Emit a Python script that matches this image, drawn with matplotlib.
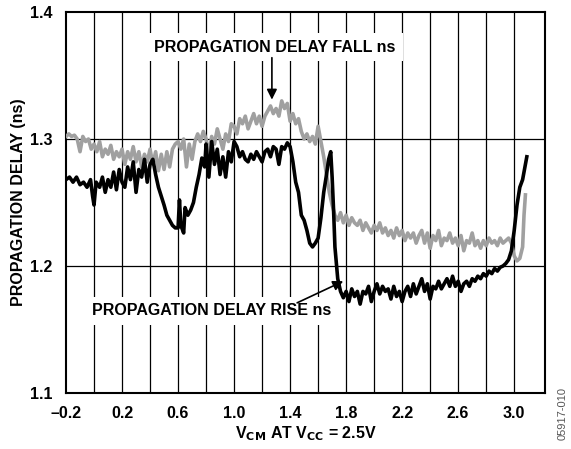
import matplotlib
matplotlib.use("Agg")
import matplotlib.pyplot as plt

plt.rcParams['font.family'] = ['Liberation Sans', 'DejaVu Sans']
plt.rcParams['font.weight'] = 'bold'

# propagation delay rise (black), ns
rise_x = [-0.2, -0.175, -0.15, -0.125, -0.1, -0.075, -0.05, -0.025, -0.01, 0.0,
          0.015, 0.04, 0.06, 0.08, 0.10, 0.12, 0.14, 0.16, 0.18, 0.20,
          0.22, 0.24, 0.26, 0.28, 0.30, 0.32, 0.34, 0.36, 0.38, 0.40,
          0.42, 0.44, 0.46, 0.48, 0.50, 0.52, 0.54, 0.56, 0.58, 0.60,
          0.61, 0.62, 0.64, 0.65, 0.67, 0.69, 0.71, 0.73, 0.75, 0.77,
          0.79, 0.80, 0.82, 0.84, 0.86, 0.88, 0.90, 0.92, 0.94, 0.96,
          0.98, 1.00, 1.02, 1.04, 1.06, 1.08, 1.10, 1.12, 1.14, 1.16,
          1.18, 1.20, 1.22, 1.24, 1.26, 1.28, 1.30, 1.32, 1.34, 1.36,
          1.38, 1.40, 1.42, 1.44, 1.46, 1.48, 1.50, 1.52, 1.54, 1.56,
          1.58, 1.60, 1.62, 1.64, 1.66, 1.675, 1.69, 1.70, 1.71, 1.72,
          1.74, 1.76, 1.78, 1.80, 1.82, 1.84, 1.86, 1.88, 1.90, 1.92,
          1.94, 1.96, 1.98, 2.00, 2.02, 2.04, 2.06, 2.08, 2.10, 2.12,
          2.14, 2.16, 2.18, 2.20, 2.22, 2.24, 2.26, 2.28, 2.30, 2.32,
          2.34, 2.36, 2.38, 2.40, 2.42, 2.44, 2.46, 2.48, 2.50, 2.52,
          2.54, 2.56, 2.58, 2.60, 2.62, 2.64, 2.66, 2.68, 2.70, 2.72,
          2.74, 2.76, 2.78, 2.80, 2.82, 2.84, 2.86, 2.88, 2.90, 2.92,
          2.94, 2.96, 2.98, 3.00, 3.02, 3.04, 3.06, 3.08, 3.09]
rise_y = [1.268, 1.270, 1.266, 1.270, 1.264, 1.266, 1.262, 1.268, 1.255, 1.248,
          1.266, 1.262, 1.270, 1.258, 1.268, 1.262, 1.274, 1.260, 1.276, 1.266,
          1.262, 1.278, 1.268, 1.282, 1.258, 1.276, 1.270, 1.284, 1.266, 1.280,
          1.284, 1.272, 1.262, 1.255, 1.248, 1.240, 1.236, 1.232, 1.230, 1.230,
          1.252, 1.232, 1.226, 1.246, 1.240, 1.244, 1.250, 1.262, 1.272, 1.285,
          1.278, 1.296, 1.270, 1.298, 1.280, 1.292, 1.272, 1.286, 1.270, 1.290,
          1.282, 1.298, 1.294, 1.286, 1.290, 1.284, 1.282, 1.288, 1.284, 1.290,
          1.286, 1.282, 1.290, 1.292, 1.286, 1.294, 1.292, 1.280, 1.294, 1.292,
          1.297, 1.294, 1.282, 1.266, 1.258, 1.240, 1.236, 1.228, 1.218, 1.215,
          1.218, 1.222, 1.238, 1.258, 1.272, 1.284, 1.290, 1.270, 1.245, 1.215,
          1.190, 1.180, 1.175, 1.180, 1.172, 1.182, 1.176, 1.180, 1.170, 1.180,
          1.178, 1.184, 1.172, 1.180, 1.186, 1.178, 1.184, 1.180, 1.182, 1.174,
          1.184, 1.176, 1.180, 1.172, 1.180, 1.184, 1.176, 1.186, 1.178, 1.184,
          1.190, 1.180, 1.186, 1.174, 1.184, 1.182, 1.188, 1.182, 1.186, 1.190,
          1.184, 1.192, 1.184, 1.188, 1.180, 1.186, 1.188, 1.184, 1.190, 1.188,
          1.192, 1.190, 1.194, 1.192, 1.196, 1.194, 1.198, 1.196, 1.199, 1.200,
          1.202, 1.205, 1.212, 1.228, 1.248, 1.262, 1.268, 1.280, 1.286]

# propagation delay fall (grey), ns
fall_x = [-0.2, -0.18, -0.16, -0.14, -0.12, -0.1, -0.08, -0.06, -0.04, -0.02,
          0.0, 0.02, 0.04, 0.06, 0.08, 0.10, 0.12, 0.14, 0.16, 0.18,
          0.20, 0.22, 0.24, 0.26, 0.28, 0.30, 0.32, 0.34, 0.36, 0.38,
          0.40, 0.42, 0.44, 0.46, 0.48, 0.50, 0.52, 0.54, 0.56, 0.58,
          0.60, 0.62, 0.64, 0.66, 0.68, 0.70, 0.72, 0.74, 0.76, 0.78,
          0.80, 0.82, 0.84, 0.86, 0.88, 0.90, 0.92, 0.94, 0.96, 0.98,
          1.00, 1.02, 1.04, 1.06, 1.08, 1.10, 1.12, 1.14, 1.16, 1.18,
          1.20, 1.22, 1.24, 1.26, 1.28, 1.30, 1.32, 1.34, 1.36, 1.38,
          1.40, 1.42, 1.44, 1.46, 1.48, 1.50, 1.52, 1.54, 1.56, 1.58,
          1.60, 1.62, 1.64, 1.66, 1.68, 1.70, 1.72, 1.74, 1.76, 1.78,
          1.80, 1.82, 1.84, 1.86, 1.88, 1.90, 1.92, 1.94, 1.96, 1.98,
          2.00, 2.02, 2.04, 2.06, 2.08, 2.10, 2.12, 2.14, 2.16, 2.18,
          2.20, 2.22, 2.24, 2.26, 2.28, 2.30, 2.32, 2.34, 2.36, 2.38,
          2.40, 2.42, 2.44, 2.46, 2.48, 2.50, 2.52, 2.54, 2.56, 2.58,
          2.60, 2.62, 2.64, 2.66, 2.68, 2.70, 2.72, 2.74, 2.76, 2.78,
          2.80, 2.82, 2.84, 2.86, 2.88, 2.90, 2.92, 2.94, 2.96, 2.98,
          3.00, 3.02, 3.04, 3.06, 3.07, 3.08]
fall_y = [1.302, 1.304, 1.302, 1.303, 1.300, 1.290, 1.302, 1.298, 1.300, 1.292,
          1.296, 1.290, 1.298, 1.286, 1.292, 1.288, 1.295, 1.284, 1.290, 1.286,
          1.292, 1.280, 1.290, 1.284, 1.294, 1.282, 1.290, 1.278, 1.288, 1.282,
          1.292, 1.280, 1.290, 1.275, 1.288, 1.276, 1.290, 1.278, 1.292, 1.296,
          1.298, 1.292, 1.300, 1.278, 1.296, 1.284, 1.298, 1.304, 1.298, 1.306,
          1.300, 1.288, 1.302, 1.296, 1.308, 1.300, 1.292, 1.304, 1.298, 1.312,
          1.310, 1.304, 1.316, 1.312, 1.318, 1.308, 1.314, 1.320, 1.312, 1.318,
          1.310, 1.318, 1.322, 1.326, 1.320, 1.324, 1.318, 1.330, 1.324, 1.328,
          1.314, 1.320, 1.312, 1.316, 1.306, 1.300, 1.304, 1.298, 1.302, 1.296,
          1.310, 1.298, 1.286, 1.272, 1.258, 1.248, 1.240, 1.236, 1.242, 1.234,
          1.240, 1.232, 1.238, 1.234, 1.232, 1.236, 1.228, 1.234, 1.230, 1.226,
          1.232, 1.228, 1.234, 1.226, 1.230, 1.224, 1.228, 1.222, 1.230, 1.224,
          1.228, 1.220, 1.226, 1.222, 1.226, 1.218, 1.224, 1.228, 1.218, 1.226,
          1.214, 1.224, 1.220, 1.228, 1.216, 1.222, 1.220, 1.226, 1.218, 1.222,
          1.216, 1.224, 1.212, 1.220, 1.218, 1.226, 1.216, 1.220, 1.214, 1.220,
          1.216, 1.222, 1.218, 1.220, 1.216, 1.222, 1.218, 1.220, 1.222, 1.218,
          1.208, 1.204, 1.206, 1.215, 1.240, 1.256]

x_ticks = [-0.2, 0.2, 0.6, 1.0, 1.4, 1.8, 2.2, 2.6, 3.0]
x_tick_labels = ['\u20130.2', '0.2', '0.6', '1.0', '1.4', '1.8', '2.2', '2.6', '3.0']
y_ticks = [1.1, 1.2, 1.3, 1.4]

fs = 11.5

fig = plt.figure(figsize=(5.71, 4.49), dpi=100)
ax = fig.add_axes([0.1156, 0.1247, 0.8389, 0.8486])

# grid: every 0.2 V vertically, every 0.1 ns horizontally
for gx in [0.0, 0.2, 0.4, 0.6, 0.8, 1.0, 1.2, 1.4, 1.6, 1.8, 2.0, 2.2, 2.4, 2.6, 2.8, 3.0]:
    ax.axvline(gx, color='black', lw=0.9, zorder=1)
for gy in [1.2, 1.3]:
    ax.axhline(gy, color='black', lw=0.9, zorder=1)

ax.plot(fall_x, fall_y, color='#a0a0a0', lw=2.6, zorder=3)
ax.plot(rise_x, rise_y, color='black', lw=2.6, zorder=4)

ax.set_xlim(-0.2, 3.22)
ax.set_ylim(1.1, 1.4)
ax.set_xticks(x_ticks)
ax.set_xticklabels(x_tick_labels)
ax.set_yticks(y_ticks)
ax.set_yticklabels(['1.1', '1.2', '1.3', '1.4'])
ax.tick_params(length=0, labelsize=fs)
ax.tick_params(axis='x', pad=9)
ax.tick_params(axis='y', pad=10)
for s in ax.spines.values():
    s.set_linewidth(1.5)

ax.set_ylabel('PROPAGATION DELAY (ns)', fontsize=fs, fontweight='bold')
ax.yaxis.set_label_coords(-0.083, 0.5)
ax.set_xlabel(r'V$_{\mathbf{CM}}$ AT V$_{\mathbf{CC}}$ = 2.5V', fontsize=fs,
              fontweight='bold', labelpad=3)

box = dict(facecolor='white', edgecolor='none', pad=5)
ax.text(1.293, 1.3724, 'PROPAGATION DELAY FALL ns', ha='center', va='center',
        fontsize=fs, fontweight='bold', bbox=box, zorder=6)
ax.annotate('', xy=(1.27, 1.331), xytext=(1.27, 1.364), zorder=6,
            arrowprops=dict(arrowstyle='-|>', color='black', lw=1.2,
                            mutation_scale=15, shrinkA=0, shrinkB=0))
ax.text(0.843, 1.1646, 'PROPAGATION DELAY RISE ns', ha='center', va='center',
        fontsize=fs, fontweight='bold', bbox=box, zorder=6)
ax.annotate('', xy=(1.779, 1.188), xytext=(1.45, 1.171), zorder=6,
            arrowprops=dict(arrowstyle='-|>', color='black', lw=1.2,
                            mutation_scale=15, shrinkA=0, shrinkB=0))

fig.text(0.986, 0.02, '05917-010', rotation=90, fontsize=8, color='#555555',
         fontweight='normal', ha='center', va='bottom')

plt.savefig('out.png', dpi=100)
